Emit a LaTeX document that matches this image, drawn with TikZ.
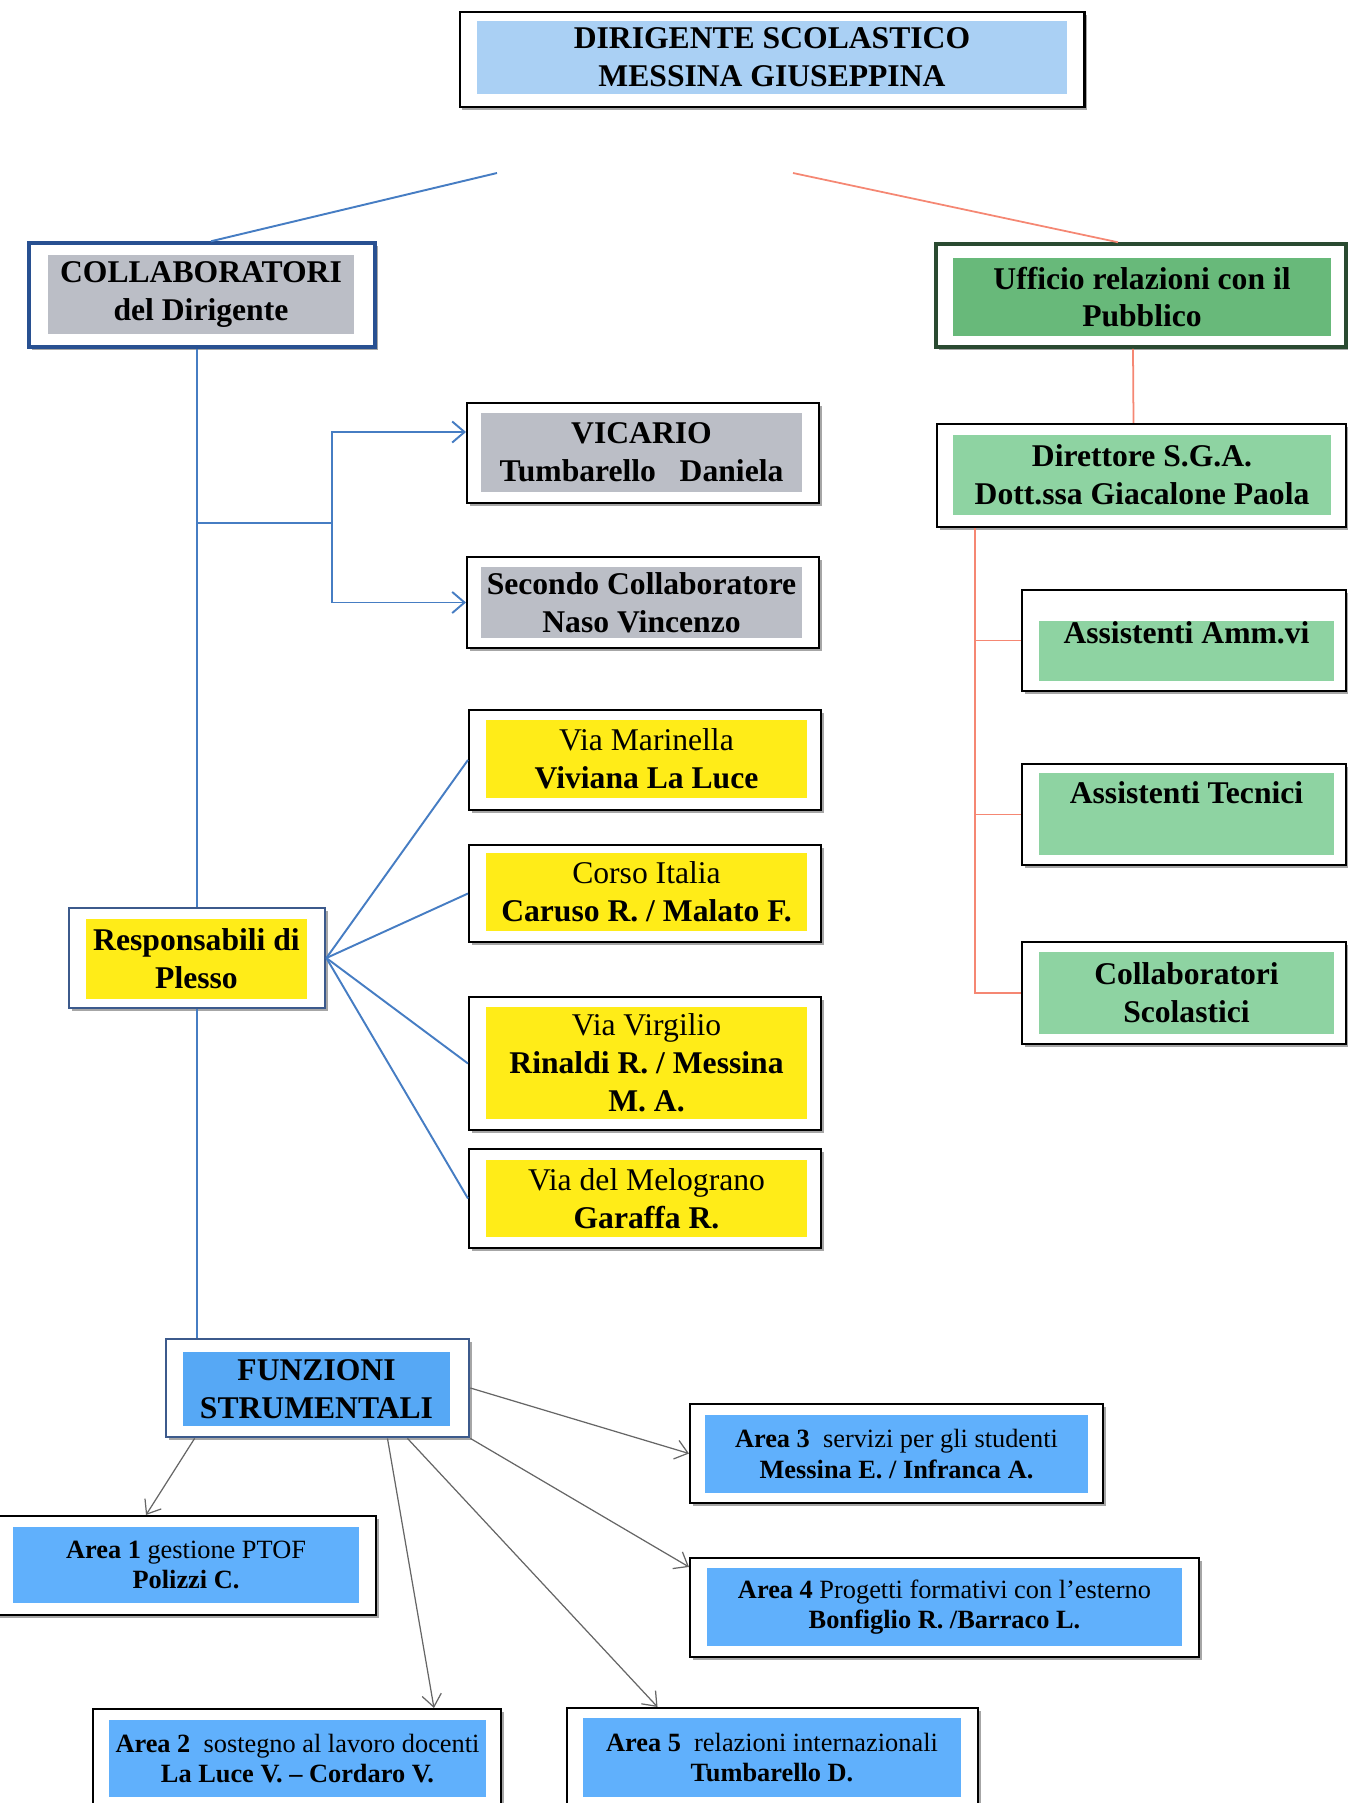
\documentclass[tikz,border=0pt]{standalone}
\usepackage{fontspec}
\setmainfont{Liberation Serif}
\usetikzlibrary{arrows.meta,shadows}

\begin{document}
\begin{tikzpicture}[x=0.02cm,y=-0.02cm]
\definecolor{dirblue}{RGB}{170,208,244}
\definecolor{cgrey}{RGB}{187,190,198}
\definecolor{uffgreen}{RGB}{104,185,122}
\definecolor{lgreen}{RGB}{142,211,162}
\definecolor{ylw}{RGB}{255,236,24}
\definecolor{areablue}{RGB}{96,176,252}
\definecolor{funblue}{RGB}{86,168,245}
\definecolor{collblue}{RGB}{40,80,145}
\definecolor{respblue}{RGB}{60,90,140}
\definecolor{linkblue}{RGB}{70,125,195}
\definecolor{linkred}{RGB}{245,135,115}
\tikzset{frame/.style={draw=black,line width=1.2pt,fill=white,inner sep=0pt,
    drop shadow={shadow xshift=1.5pt,shadow yshift=-1.5pt,fill=black,opacity=.35}},
  fatframe/.style={frame,draw=#1,line width=2pt},
  card/.style={fill=#1,inner sep=0pt,align=center,font=\fontsize{18}{21.5}\selectfont\bfseries},
  plain card/.style={card=#1,font=\fontsize{18}{21.5}\selectfont},
  area/.style={fill=areablue,inner sep=0pt,align=center,font=\fontsize{15}{17.5}\selectfont},
  blueline/.style={draw=linkblue,line width=1.1pt},
  redline/.style={draw=linkred,line width=1pt},
  bluearrow/.style={blueline,-{Straight Barb[length=7pt,width=12pt]}},
  grayarrow/.style={draw=black!60,line width=.7pt,-{Straight Barb[length=7pt,width=11pt]}}}
\useasboundingbox (0,0) rectangle (1348,1803);

% vertice
\node[frame,minimum width=12.5cm,minimum height=1.9cm] (dir) at (772,59.5) {};
\node[card=dirblue,minimum width=11.8cm,minimum height=1.46cm] (dirIn) at (772,57.5) {DIRIGENTE SCOLASTICO\\MESSINA GIUSEPPINA};

% ramo sinistro
\node[fatframe=collblue,minimum width=6.92cm,minimum height=2.08cm] (coll) at (202,295) {};
\node[card=cgrey,minimum width=6.12cm,minimum height=1.58cm] (collIn) at (201,294.5) {COLLABORATORI\\del Dirigente};
\node[frame,minimum width=7.04cm,minimum height=2cm] (vic) at (643,453) {};
\node[card=cgrey,minimum width=6.42cm,minimum height=1.58cm] (vicIn) at (641.5,452.5) {VICARIO\\Tumbarello\ \ \ Daniela};
\node[frame,minimum width=7.04cm,minimum height=1.82cm] (sec) at (643,602.5) {};
\node[card=cgrey,minimum width=6.42cm,minimum height=1.42cm] (secIn) at (641.5,602.5) {Secondo Collaboratore\\Naso Vincenzo};

% plessi
\node[fatframe=respblue,line width=1.6pt,minimum width=5.12cm,minimum height=2cm] (resp) at (197,958) {};
\node[card=ylw,minimum width=4.42cm,minimum height=1.6cm] (respIn) at (196.5,959) {Responsabili di\\Plesso};
\node[frame,minimum width=7.04cm,minimum height=2cm] (mar) at (645,760) {};
\node[plain card=ylw,minimum width=6.42cm,minimum height=1.56cm] (marIn) at (646.5,759) {Via Marinella\\\textbf{Viviana La Luce}};
\node[frame,minimum width=7.04cm,minimum height=1.94cm] (cor) at (645,893.5) {};
\node[plain card=ylw,minimum width=6.42cm,minimum height=1.56cm] (corIn) at (646.5,892) {Corso Italia\\\textbf{Caruso R. / Malato F.}};
\node[frame,minimum width=7.04cm,minimum height=2.66cm] (vir) at (645,1063.5) {};
\node[plain card=ylw,minimum width=6.42cm,minimum height=2.24cm] (virIn) at (646.5,1063) {Via Virgilio\\\textbf{Rinaldi R. / Messina}\\\textbf{M. A.}};
\node[frame,minimum width=7.04cm,minimum height=1.98cm] (mel) at (645,1198.5) {};
\node[plain card=ylw,minimum width=6.42cm,minimum height=1.54cm] (melIn) at (646.5,1198.5) {Via del Melograno\\\textbf{Garaffa R.}};

% ramo destro
\node[fatframe=uffgreen!40!black,minimum width=8.2cm,minimum height=2.06cm] (uff) at (1141,295.5) {};
\node[card=uffgreen,minimum width=7.56cm,minimum height=1.56cm] (uffIn) at (1142,297) {Ufficio relazioni con il\\Pubblico};
\node[frame,minimum width=8.18cm,minimum height=2.06cm] (dsga) at (1141.5,475.5) {};
\node[card=lgreen,minimum width=7.56cm,minimum height=1.6cm] (dsgaIn) at (1142,475) {Direttore S.G.A.\\Dott.ssa Giacalone Paola};
\node[frame,minimum width=6.48cm,minimum height=2.02cm] (amm) at (1184,640.5) {};
\node[card=lgreen,minimum width=5.9cm,minimum height=1.2cm,text height=12.5pt,text depth=21.5pt] (ammIn) at (1186.5,651) {Assistenti Amm.vi};
\node[frame,minimum width=6.48cm,minimum height=2.02cm] (tec) at (1184,814.5) {};
\node[card=lgreen,minimum width=5.9cm,minimum height=1.64cm,text height=12.5pt,text depth=24.3pt] (tecIn) at (1186.5,814) {Assistenti Tecnici};
\node[frame,minimum width=6.48cm,minimum height=2.04cm] (scol) at (1184,993) {};
\node[card=lgreen,minimum width=5.9cm,minimum height=1.64cm] (scolIn) at (1186.5,993) {Collaboratori\\Scolastici};

% funzioni strumentali
\node[fatframe=respblue,line width=1.6pt,minimum width=6.06cm,minimum height=1.96cm] (funz) at (317.5,1388) {};
\node[card=funblue,minimum width=5.34cm,minimum height=1.48cm] (funzIn) at (316.5,1389) {FUNZIONI\\STRUMENTALI};
\node[frame,minimum width=8.26cm,minimum height=1.98cm] (area3) at (896.5,1453.5) {};
\node[area,minimum width=7.66cm,minimum height=1.56cm] (area3In) at (896.5,1454) {\textbf{Area 3}\ \ servizi per gli studenti\\\textbf{Messina E. / Infranca A.}};
\node[frame,minimum width=7.6cm,minimum height=1.98cm] (area1) at (186,1565.5) {};
\node[area,minimum width=6.92cm,minimum height=1.52cm] (area1In) at (186,1565) {\textbf{Area 1} gestione PTOF\\\textbf{Polizzi C.}};
\node[frame,minimum width=10.18cm,minimum height=1.98cm] (area4) at (944.5,1607.5) {};
\node[area,minimum width=9.5cm,minimum height=1.56cm] (area4In) at (944.5,1607) {\textbf{Area 4} Progetti formativi con l’esterno\\\textbf{Bonfiglio R. /Barraco L.}};
\node[frame,minimum width=8.16cm,minimum height=1.96cm] (area2) at (297,1758) {};
\node[area,minimum width=7.54cm,minimum height=1.54cm] (area2In) at (297.5,1758.5) {\textbf{Area 2}\ \ sostegno al lavoro docenti\\\textbf{La Luce V. – Cordaro V.}};
\node[frame,minimum width=8.22cm,minimum height=1.96cm] (area5) at (772.5,1757) {};
\node[area,minimum width=7.56cm,minimum height=1.58cm] (area5In) at (772,1757.5) {\textbf{Area 5}\ \ relazioni internazionali\\\textbf{Tumbarello D.}};

% collegamenti
\coordinate (blueTop) at (497,173);
\coordinate (redTop) at (793,173);
\draw[blueline] (blueTop) -- ([xshift=0.18cm]coll.north);
\draw[redline] (redTop) -- ([xshift=-0.46cm]uff.north);
\draw[blueline] (coll.south -| resp.north) -- (resp.north);
\draw[blueline] (resp.south) -- (resp.south |- funz.north);
\coordinate (fork) at (332,523);
\draw[blueline] (fork -| resp.north) -- (fork);
\draw[bluearrow] (fork) |- ([yshift=0.42cm]vic.west);
\draw[bluearrow] (fork) |- (sec.west);
\foreach \p in {mar,cor,vir,mel} \draw[blueline] (resp.east) -- (\p.west);

\draw[redline] ([xshift=-0.16cm]uff.south) -- ([xshift=-0.16cm]dsga.north);
\coordinate (redFork) at ([xshift=0.78cm]dsga.south west);
\draw[redline] (redFork) |- (scol.west);
\foreach \p in {amm,tec} \draw[redline] (redFork |- \p.west) -- (\p.west);

\draw[grayarrow] (funz.east) -- (area3.west);
\draw[grayarrow] ([xshift=0.6cm]funz.south west) -- ([xshift=-0.8cm]area1.north);
\draw[grayarrow] ([xshift=1.4cm]funz.south) -- ([xshift=2.74cm]area2.north);
\draw[grayarrow] ([xshift=1.8cm]funz.south) -- ([xshift=-2.3cm]area5.north);
\draw[grayarrow] (funz.south east) -- ([yshift=-0.2cm]area4.north west);
\end{tikzpicture}
\end{document}
